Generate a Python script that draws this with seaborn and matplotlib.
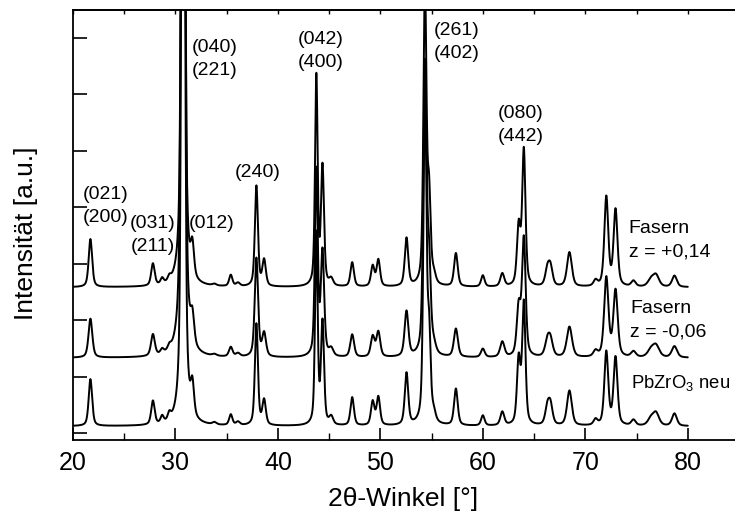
import numpy as np
import pandas as pd
import matplotlib
matplotlib.use("Agg")
import matplotlib.pyplot as plt
import seaborn as sns
from matplotlib.ticker import MultipleLocator

# ---------------- data ----------------
samples = ["PbZrO3 neu", "Fasern z = -0,06", "Fasern z = +0,14"]
baselines = [0.12, 1.33, 2.58]

peak_pos = [21.7, 27.8, 28.7, 29.4, 30.75, 31.65, 33.8, 35.4, 36.1, 37.9,
            38.65, 43.75, 44.35, 45.2, 47.25, 49.25, 49.8, 52.55, 54.35,
            54.75, 55.2, 57.37, 60.0, 61.9, 63.5, 64.0, 66.3, 66.6, 68.45,
            71.0, 72.05, 72.95, 74.7, 76.4, 76.9, 78.7]
peak_fwhm = [0.4, 0.4, 0.35, 0.35, 0.32, 0.38, 0.45, 0.38, 0.45, 0.35,
             0.4, 0.3, 0.35, 0.45, 0.4, 0.4, 0.4, 0.4, 0.35,
             0.35, 0.45, 0.42, 0.4, 0.45, 0.4, 0.38, 0.5, 0.5, 0.55,
             0.45, 0.45, 0.45, 0.5, 0.7, 0.7, 0.55]
h_neu = [0.83, 0.42, 0.12, 0.12, 22.0, 0.55, 0.04, 0.19, 0.06, 1.8,
         0.44, 3.4, 1.8, 0.14, 0.5, 0.42, 0.5, 0.92, 5.9,
         1.5, 0.15, 0.65, 0.18, 0.24, 1.15, 2.15, 0.3, 0.34, 0.62,
         0.1, 1.3, 1.2, 0.1, 0.12, 0.22, 0.22]
h_m006 = [0.69, 0.38, 0.08, 0.08, 22.0, 0.5, 0.03, 0.17, 0.06, 1.75,
          0.41, 3.3, 1.83, 0.13, 0.4, 0.36, 0.44, 0.8, 5.1,
          1.5, 0.15, 0.5, 0.15, 0.27, 0.86, 2.08, 0.26, 0.28, 0.54,
          0.1, 1.4, 1.17, 0.1, 0.12, 0.2, 0.2]
h_p014 = [0.85, 0.39, 0.1, 0.08, 22.0, 0.55, 0.03, 0.2, 0.06, 1.78,
          0.46, 3.72, 2.09, 0.12, 0.43, 0.36, 0.47, 0.85, 5.3,
          1.5, 0.15, 0.59, 0.2, 0.23, 1.04, 2.4, 0.28, 0.32, 0.61,
          0.1, 1.58, 1.35, 0.1, 0.12, 0.2, 0.2]
width_scale = [1.0, 1.1, 1.0]

x_ticks = [20, 30, 40, 50, 60, 70, 80]

peak_labels = [("(021)", "(200)"), ("(031)", "(211)"), ("(012)",),
               ("(040)", "(221)"), ("(240)",), ("(042)", "(400)"),
               ("(261)", "(402)"), ("(080)", "(442)")]
sample_labels = [("PbZrO$_3$ neu",), ("Fasern", "z = -0,06"),
                 ("Fasern", "z = +0,14")]

# ---------------- build curves from peak list ----------------
two_theta = np.arange(20.0, 80.01, 0.02)


def profile(x, c, fwhm, eta=0.5):
    g = np.exp(-4 * np.log(2) * ((x - c) / fwhm) ** 2)
    lor = 1.0 / (1.0 + 4 * ((x - c) / fwhm) ** 2)
    return eta * lor + (1 - eta) * g


frames = []
for name, base, heights, ws in zip(samples, baselines,
                                   [h_neu, h_m006, h_p014], width_scale):
    y = np.full_like(two_theta, base)
    for c, w, h in zip(peak_pos, peak_fwhm, heights):
        y += h * profile(two_theta, c, w * ws)
    frames.append(pd.DataFrame({"two_theta": two_theta, "intensity": y,
                                "sample": name}))
df = pd.concat(frames, ignore_index=True)

# ---------------- plot ----------------
sns.set_theme(style="ticks")
plt.rcParams["font.family"] = ["Liberation Sans", "DejaVu Sans"]
plt.rcParams["mathtext.fontset"] = "custom"
plt.rcParams["mathtext.rm"] = "Liberation Sans"
plt.rcParams["mathtext.default"] = "regular"
for k in ["text.color", "axes.labelcolor", "xtick.color", "ytick.color",
          "axes.edgecolor"]:
    plt.rcParams[k] = "black"

W, H = 735, 515
fig = plt.figure(figsize=(W / 100, H / 100), dpi=100)
ax_l, ax_r, ax_t, ax_b = 73, 739, 10, 440
ax = fig.add_axes([ax_l / W, 1 - ax_b / H, (ax_r - ax_l) / W, (ax_b - ax_t) / H])

sns.lineplot(data=df, x="two_theta", y="intensity", hue="sample",
             palette=["black"] * 3, legend=False, estimator=None,
             sort=False, linewidth=1.4, ax=ax)

ax.set_xlim(20, 85)
ax.set_ylim(-0.124, 7.49)
ax.set_xticks(x_ticks)
ax.xaxis.set_minor_locator(MultipleLocator(5))
ax.set_yticks(np.arange(0, 8))
ax.set_yticklabels([])
ax.tick_params(axis="x", which="major", direction="in", length=9, width=1.2,
               labelsize=18, pad=8)
ax.tick_params(axis="x", which="minor", direction="in", length=5, width=1)
ax.tick_params(axis="y", which="major", direction="in", length=10, width=1.2)
for s in ["left", "bottom", "top"]:
    ax.spines[s].set_linewidth(1.3)
ax.spines["right"].set_visible(False)

top = ax.secondary_xaxis("top")
top.set_xticks(np.arange(20, 86, 5))
top.tick_params(direction="in", length=3, width=1, labeltop=False)
top.set_xticklabels([])

ax.set_xlabel("2θ-Winkel [°]", fontsize=19)
ax.set_ylabel("Intensität [a.u.]", fontsize=19)
ax.xaxis.set_label_coords((403 - ax_l) / (ax_r - ax_l), -(487 - ax_b) / (ax_b - ax_t))
ax.yaxis.set_label_coords(-(73 - 38) / (ax_r - ax_l), (ax_b - 233) / (ax_b - ax_t))


def px2data(px, py):
    return 20 + (px - ax_l) / ((ax_r - ax_l) / 65), (433 - py) / 56.5


# peak labels: center x px, first-line y px
label_pos = [(105.5, 194), (152.5, 223), (211.3, 223), (215, 47),
             (258, 172), (320.8, 39.5), (456.8, 30.5), (520.7, 113.5)]
for lines, (px, py) in zip(peak_labels, label_pos):
    for i, t in enumerate(lines):
        xd, yd = px2data(px, py + 23 * i)
        ax.text(xd, yd, t, ha="center", va="center", fontsize=14)

sample_pos = [(631, 383), (630.5, 308), (628.7, 228)]
sample_fs = [13.3, 14, 14]
for lines, (px, py), fs in zip(sample_labels, sample_pos, sample_fs):
    for i, t in enumerate(lines):
        xd, yd = px2data(px, py + 24 * i)
        ax.text(xd, yd, t, ha="left", va="center", fontsize=fs)

fig.savefig("out.png", dpi=100)
